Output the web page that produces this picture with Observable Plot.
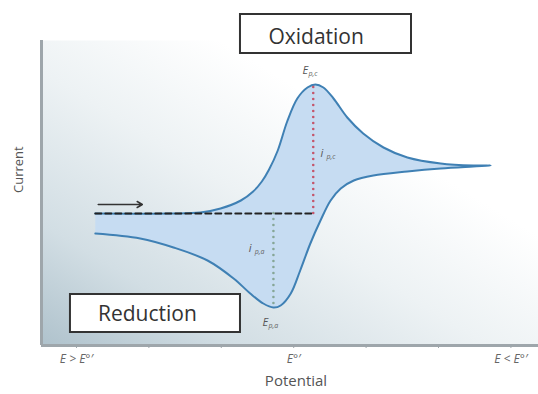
<!DOCTYPE html>
<html>
<head>
<meta charset="utf-8">
<script src="https://cdn.jsdelivr.net/npm/d3@7"></script>
<script src="https://cdn.jsdelivr.net/npm/@observablehq/plot@0.6"></script>
<style>
  html, body { margin: 0; padding: 0; background: #fff; }
  #chart { width: 538px; height: 394px; }
</style>
</head>
<body>
<div id="chart"></div>
<script>
// Potential axis (arbitrary units) and labels
const potentialTicks = [0, 1, 2, 3, 4, 5, 6];
const tickLabels = ["E > E°′", "", "", "E°′", "", "", "E < E°′"];

// Forward scan (upper branch)
const forwardE = [0.26, 1.30, 1.71, 1.99, 2.27, 2.44, 2.56, 2.66, 2.78, 2.91, 3.05, 3.19, 3.30, 3.41, 3.55, 3.74, 3.96, 4.24, 4.57, 5.03, 5.48, 5.72];
const forwardI = [0.00, 0.00, 0.01, 0.05, 0.13, 0.22, 0.32, 0.44, 0.63, 0.92, 1.15, 1.26, 1.29, 1.26, 1.15, 0.96, 0.80, 0.66, 0.56, 0.50, 0.48, 0.48];

// Reverse scan (lower branch), continuing from the switching point
const reverseE = [5.48, 5.03, 4.57, 4.10, 3.83, 3.65, 3.51, 3.37, 3.23, 3.09, 2.96, 2.82, 2.72, 2.58, 2.40, 2.17, 1.81, 1.34, 0.88, 0.26];
const reverseI = [0.47, 0.45, 0.42, 0.38, 0.33, 0.25, 0.13, -0.07, -0.30, -0.57, -0.80, -0.92, -0.94, -0.90, -0.80, -0.65, -0.47, -0.34, -0.25, -0.20];

// Peaks
const peakE = [3.27, 2.72];
const peakI = [1.29, -0.94];
const peakColors = ["#c4566c", "#86a696"];

// Baseline (dashed) and scan direction arrow
const baselineE = [0.26, 3.27];
const baselineI = [0, 0];
const arrowE = [0.30, 0.91];
const arrowI = [0.09, 0.09];

// Peak annotations
const annMain = ["E", "i", "i", "E"];
const annSub = ["p,c", "p,c", "p,a", "p,a"];
const annE = [3.12, 3.37, 2.38, 2.57];
const annI = [1.43, 0.60, -0.35, -1.09];

// Labelled boxes
const boxLabels = ["Oxidation", "Reduction"];
const boxE1 = [2.265, -0.083];
const boxE2 = [4.627, 2.265];
const boxI1 = [1.99, -0.81];
const boxI2 = [1.60, -1.19];
const boxTextE = [3.31, 0.98];
const boxTextI = [1.76, -1.01];

const xDomain = [-0.483, 6.381];
const yDomain = [-1.32, 1.73];

const loop = forwardE.map((e, k) => ({E: e, I: forwardI[k]}))
  .concat(reverseE.map((e, k) => ({E: e, I: reverseI[k]})));
const peaks = peakE.map((e, k) => ({E: e, I: peakI[k], c: peakColors[k]}));
const baseline = baselineE.map((e, k) => ({E: e, I: baselineI[k]}));
const arrow = [{x1: arrowE[0], x2: arrowE[1], y1: arrowI[0], y2: arrowI[1]}];
const ann = annMain.map((t, k) => ({t, s: annSub[k], E: annE[k], I: annI[k]}));
const boxes = boxLabels.map((t, k) => ({t, x1: boxE1[k], x2: boxE2[k], y1: boxI1[k], y2: boxI2[k], tx: boxTextE[k], ty: boxTextI[k]}));

const axisColor = "#9ea6ab";
const font = "'Open Sans', 'DejaVu Sans', sans-serif";

const plot = Plot.plot({
  width: 538,
  height: 394,
  marginTop: 40,
  marginRight: 0,
  marginBottom: 49,
  marginLeft: 41,
  style: {fontFamily: font, background: "transparent", overflow: "visible"},
  x: {domain: xDomain},
  y: {domain: yDomain},
  marks: [
    Plot.frame({fill: "url(#bggrad)", stroke: "none"}),
    Plot.line(loop, {x: "E", y: "I", fill: "#c6dcf2", stroke: "#3f80b4", strokeWidth: 2, curve: "catmull-rom"}),
    Plot.line(baseline, {x: "E", y: "I", stroke: "#222", strokeWidth: 2, strokeDasharray: "6,4"}),
    Plot.ruleX(peaks, {x: "E", y1: 0, y2: "I", stroke: "c", strokeWidth: 2.6, strokeDasharray: "0,6", strokeLinecap: "round"}),
    Plot.arrow(arrow, {x1: "x1", y1: "y1", x2: "x2", y2: "y2", stroke: "#333", strokeWidth: 1.5, headLength: 6}),
    Plot.text(ann, {x: "E", y: "I", text: "t", fontSize: 11, fontStyle: "italic", fill: "#555", textAnchor: "start"}),
    Plot.text(ann, {x: "E", y: "I", text: "s", fontSize: 7, fontStyle: "italic", fill: "#666", textAnchor: "start", dx: 6, dy: 3}),
    Plot.rect(boxes, {x1: "x1", x2: "x2", y1: "y1", y2: "y2", fill: "white", stroke: "#333", strokeWidth: 2}),
    Plot.text(boxes, {x: "tx", y: "ty", text: "t", fontSize: 21, fontWeight: 500, fill: "#333"}),
    Plot.ruleX([xDomain[0]], {stroke: axisColor, strokeWidth: 3}),
    Plot.ruleY([yDomain[0]], {stroke: axisColor, strokeWidth: 3}),
    Plot.axisX({ticks: potentialTicks, tickFormat: (d, k) => tickLabels[k], tickSize: 3, tickPadding: 6, stroke: axisColor, fill: "#666", fontSize: 12, fontStyle: "italic", label: null}),
    Plot.axisY({ticks: [], label: null}),
    Plot.text(["Current"], {frameAnchor: "left", rotate: -90, dx: -23, fontSize: 13, fill: "#555"}),
    Plot.text(["Potential"], {frameAnchor: "bottom", dy: 40, dx: 6, fontSize: 15, fill: "#555"})
  ]
});

d3.select(plot).insert("defs", ":first-child").html(`
  <linearGradient id="bggrad" x1="0" y1="1" x2="1" y2="0">
    <stop offset="0" stop-color="#afc2cc"/>
    <stop offset="0.2" stop-color="#d2dee4"/>
    <stop offset="0.45" stop-color="#edf2f4"/>
    <stop offset="0.68" stop-color="#ffffff"/>
  </linearGradient>`);

document.getElementById("chart").appendChild(plot);
</script>
</body>
</html>
